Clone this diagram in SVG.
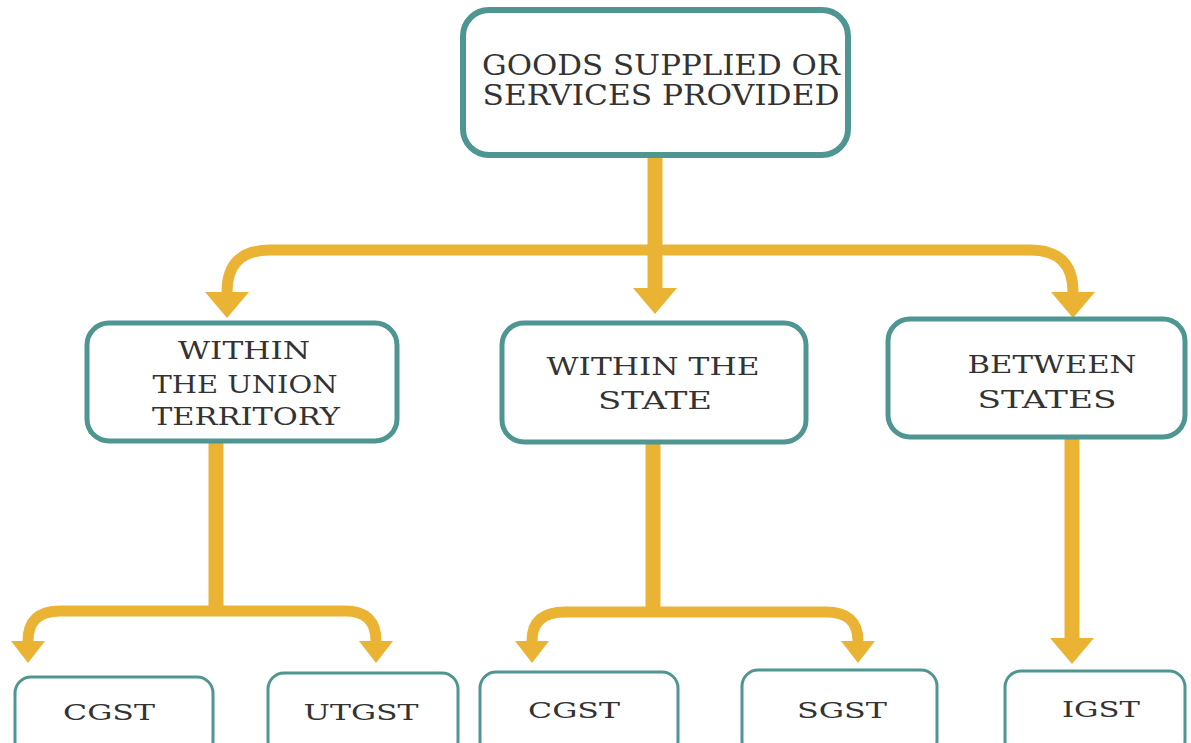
<svg xmlns="http://www.w3.org/2000/svg" width="1191" height="743" viewBox="0 0 1191 743">
  <style>
    .box { fill: #ffffff; stroke: #4f9692; }
    .main { stroke-width: 6; }
    .mid { stroke-width: 5; }
    .leaf { stroke-width: 3; }
    .lbl { font-family: "DejaVu Serif", "Liberation Serif", serif; fill: #333333; text-anchor: middle; }
    .big { font-size: 27px; }
    .med { font-size: 24px; }
    .sm { font-size: 23px; }
    .flow { fill: none; stroke: #ebb333; }
    .thick { stroke-width: 15; }
    .thin { stroke-width: 11; }
  </style>
  <defs>
    <marker id="headL" markerUnits="userSpaceOnUse" markerWidth="30" markerHeight="50" viewBox="0 -25 30 50" refX="0" refY="0" orient="auto">
      <path d="M0,-22 L26,0 L0,22 Z" fill="#ebb333"/>
    </marker>
    <marker id="headS" markerUnits="userSpaceOnUse" markerWidth="26" markerHeight="40" viewBox="0 -20 26 40" refX="0" refY="0" orient="auto">
      <path d="M0,-17 L22,0 L0,17 Z" fill="#ebb333"/>
    </marker>
  </defs>

  <rect width="1191" height="743" fill="#ffffff"/>

  <!-- connectors -->
  <g id="connectors">
    <path class="flow thick" d="M655,155 L655,288" marker-end="url(#headL)"/>
    <path class="flow thin" d="M655,250 L270,250 Q227,250 227,292" marker-end="url(#headL)"/>
    <path class="flow thin" d="M655,250 L1030,250 Q1073,250 1073,292" marker-end="url(#headL)"/>

    <path class="flow thick" d="M216,441 L216,612"/>
    <path class="flow thin" d="M216,611 L60,611 Q28,611 28,641" marker-end="url(#headS)"/>
    <path class="flow thin" d="M216,611 L345,611 Q376,611 376,641" marker-end="url(#headS)"/>

    <path class="flow thick" d="M653,442 L653,613"/>
    <path class="flow thin" d="M653,612 L565,612 Q532,612 532,641" marker-end="url(#headS)"/>
    <path class="flow thin" d="M653,612 L826,612 Q858,612 858,641" marker-end="url(#headS)"/>

    <path class="flow thick" d="M1072,437 L1072,638" marker-end="url(#headL)"/>
  </g>

  <!-- top node -->
  <g id="node-supply">
    <rect class="box main" x="463" y="10" width="385" height="145" rx="26"/>
    <text class="lbl big" x="661" y="75" textLength="358" lengthAdjust="spacingAndGlyphs">GOODS SUPPLIED OR</text>
    <text class="lbl big" x="661" y="105" textLength="357" lengthAdjust="spacingAndGlyphs">SERVICES PROVIDED</text>
  </g>

  <!-- second level -->
  <g id="node-union-territory">
    <rect class="box mid" x="87" y="323" width="310" height="118" rx="22"/>
    <text class="lbl med" x="244" y="359" textLength="132" lengthAdjust="spacingAndGlyphs">WITHIN</text>
    <text class="lbl med" x="245" y="393" textLength="185" lengthAdjust="spacingAndGlyphs">THE UNION</text>
    <text class="lbl med" x="246" y="425" textLength="188" lengthAdjust="spacingAndGlyphs">TERRITORY</text>
  </g>
  <g id="node-within-state">
    <rect class="box mid" x="502" y="323" width="304" height="119" rx="22"/>
    <text class="lbl med" x="653" y="375" textLength="213" lengthAdjust="spacingAndGlyphs">WITHIN THE</text>
    <text class="lbl med" x="655" y="409" textLength="114" lengthAdjust="spacingAndGlyphs">STATE</text>
  </g>
  <g id="node-between-states">
    <rect class="box mid" x="888" y="319" width="297" height="118" rx="22"/>
    <text class="lbl med" x="1052" y="373" textLength="169" lengthAdjust="spacingAndGlyphs">BETWEEN</text>
    <text class="lbl med" x="1047" y="408" textLength="139" lengthAdjust="spacingAndGlyphs">STATES</text>
  </g>

  <!-- tax leaves -->
  <g id="node-cgst-ut">
    <rect class="box leaf" x="15" y="677" width="198" height="80" rx="16"/>
    <text class="lbl sm" x="109" y="720" textLength="92" lengthAdjust="spacingAndGlyphs">CGST</text>
  </g>
  <g id="node-utgst">
    <rect class="box leaf" x="268" y="673" width="190" height="84" rx="16"/>
    <text class="lbl sm" x="361" y="720" textLength="115" lengthAdjust="spacingAndGlyphs">UTGST</text>
  </g>
  <g id="node-cgst-state">
    <rect class="box leaf" x="480" y="672" width="198" height="85" rx="16"/>
    <text class="lbl sm" x="574" y="718" textLength="92" lengthAdjust="spacingAndGlyphs">CGST</text>
  </g>
  <g id="node-sgst">
    <rect class="box leaf" x="742" y="670" width="195" height="87" rx="16"/>
    <text class="lbl sm" x="842" y="718" textLength="90" lengthAdjust="spacingAndGlyphs">SGST</text>
  </g>
  <g id="node-igst">
    <rect class="box leaf" x="1005" y="671" width="180" height="86" rx="16"/>
    <text class="lbl sm" x="1101" y="717" textLength="78" lengthAdjust="spacingAndGlyphs">IGST</text>
  </g>
</svg>
